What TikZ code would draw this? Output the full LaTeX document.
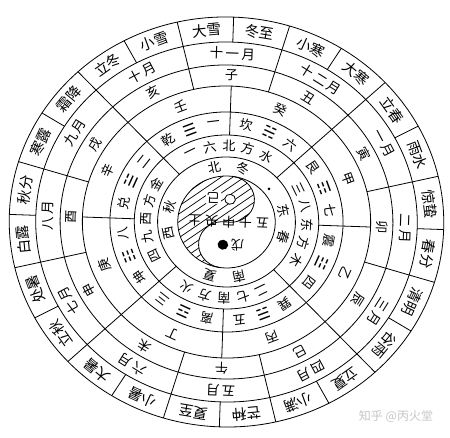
\documentclass[tikz,border=0pt]{standalone}
\usepackage{fontspec}
\newfontfamily\cjk{Noto Sans CJK SC}
\newfontfamily\cjkwide{Noto Sans CJK SC}[LetterSpace=18]
\newfontfamily\gua{DejaVu Sans}
\def\tilt{-2}
\begin{document}
\begin{tikzpicture}[x=1pt,y=1pt,line width=0.8pt,
  term/.style={font=\cjk\fontsize{14.5}{14.5}\selectfont,inner sep=0pt},
  ring/.style={font=\cjk\fontsize{13}{13}\selectfont,inner sep=0pt},
  yuetxt/.style={font=\cjkwide\fontsize{13.5}{13.5}\selectfont,inner sep=0pt},
  gua/.style={font=\gua\fontsize{15}{15}\selectfont,inner sep=0pt},
  wmark/.style={font=\cjk\fontsize{12}{12}\selectfont,text=gray!45,inner sep=0pt}]
\useasboundingbox (-226.5,-216) rectangle (223.5,222);

\begin{scope}[rotate=\tilt,x=1.06pt]
% rings
\foreach \r in {205,180,157,136,110,87,65,46}
  \draw (0,0) circle (\r);

% dividers
\foreach \a in {0,30,...,330}
  \draw ({90-\a}:180) -- ({90-\a}:205);
\foreach \a in {15,45,...,345}
  \draw ({90-\a}:136) -- ({90-\a}:205);
\foreach \a in {0,90,180,270}
  \draw ({90-\a}:87) -- ({90-\a}:136);
\foreach \a in {45,135,225,315}
  \draw ({90-\a}:65) -- ({90-\a}:136);

% solar terms
\foreach \t [count=\i from 0] in {冬至,小寒,大寒,立春,雨水,惊蛰,春分,清明,谷雨,立夏,小满,芒种,夏至,小暑,大暑,立秋,处暑,白露,秋分,寒露,霜降,立冬,小雪,大雪}
  \node[term,rotate={\tilt-7.5-15*\i}] (jq\i) at ({82.5-15*\i}:192.5) {\t};

% months
\foreach \t [count=\i from 0] in {十一月,十二月,一月,二月,三月,四月,五月,六月,七月,八月,九月,十月}
  \node[yuetxt,rotate={\tilt-30*\i}] (yue\i) at ({90-30*\i}:168.5) {\t};

% branches
\foreach \t [count=\i from 0] in {子,丑,寅,卯,辰,巳,午,未,申,酉,戌,亥}
  \node[ring,rotate={\tilt-30*\i}] (zhi\i) at ({90-30*\i}:146.5) {\t};

% stems
\foreach \t [count=\i from 0] in {癸,甲,乙,丙,丁,庚,辛,壬}
  \node[ring,rotate={\tilt-22.5-45*\i}] (gan\i) at ({67.5-45*\i}:123) {\t};

% trigrams
\foreach \a/\b/\c [count=\i from 0] in {坎/☵/六,艮/☶/七,震/☳/四,巽/☴/五,离/☲/三,坤/☷/八,兑/☱/二,乾/☰/一} {
  \node[ring,rotate={\tilt-22.5-45*\i+13.5}] (gm\i) at ({67.5-45*\i+13.5}:98.5) {\a};
  \node[gua,rotate={\tilt-22.5-45*\i}] (gx\i) at ({67.5-45*\i}:98.5) {\b};
  \node[ring,rotate={\tilt-22.5-45*\i-13.5}] (gn\i) at ({67.5-45*\i-13.5}:98.5) {\c};
}

% five directions
\foreach \q [count=\j from 0] in {{一,六,北,方,水},{三,八,东,方,木},{二,七,南,方,火},{四,九,西,方,金}}
  \foreach \c [count=\k from 0] in \q
    \node[ring,rotate={\tilt-90*\j-14*(\k-2)}] (fw\j\k) at ({90-90*\j-14*(\k-2)}:76) {\c};

% seasons
\node[ring,rotate={\tilt+14}] (bei) at (104:55.5) {北};
\node[ring,rotate={\tilt-14}] (dong) at (76:55.5) {冬};
\node[ring,rotate={\tilt-76}] (east) at (14:55.5) {东};
\node[ring,rotate={\tilt-104}] (chun) at (-14:55.5) {春};
\node[ring,rotate={\tilt-166}] (nan) at (-76:55.5) {南};
\node[ring,rotate={\tilt-194}] (xia) at (-104:55.5) {夏};
\node[ring,rotate={\tilt-256}] (xi) at (-166:55.5) {西};
\node[ring,rotate={\tilt-284}] (qiu) at (166:55.5) {秋};

% taiji
\begin{scope}[rotate=-7]
\begin{scope}
\clip (0,46) arc[start angle=90,end angle=270,radius=46]
  arc[start angle=270,end angle=90,radius=23]
  arc[start angle=-90,end angle=90,radius=23] -- cycle;
\foreach \k in {-100,-91,...,100}
  \draw[line width=0.7pt] (\k-60,-60) -- (\k+60,60);
\end{scope}
\draw (0,46) arc[start angle=90,end angle=-90,radius=23]
  arc[start angle=90,end angle=270,radius=23];
\draw[fill=white] (0,23) circle (5);
\fill (0,-23) circle (5);
\end{scope}
\foreach \c [count=\k from 0] in {五,十,中,央,土}
  \node[ring,rotate={180+\tilt}] (zy\k) at ({34-16*\k},0) {\c};
\node[ring,fill=white,inner sep=1pt,rotate={180+\tilt}] (ji) at (-13,24) {己};
\node[ring,rotate={180+\tilt}] (wu) at (11,-23) {戊};
\end{scope}

\fill (42.5,33) circle (1.5);
\node[wmark] (wm) at (169.5,-194) {知乎 @丙火堂};
\end{tikzpicture}
\end{document}
